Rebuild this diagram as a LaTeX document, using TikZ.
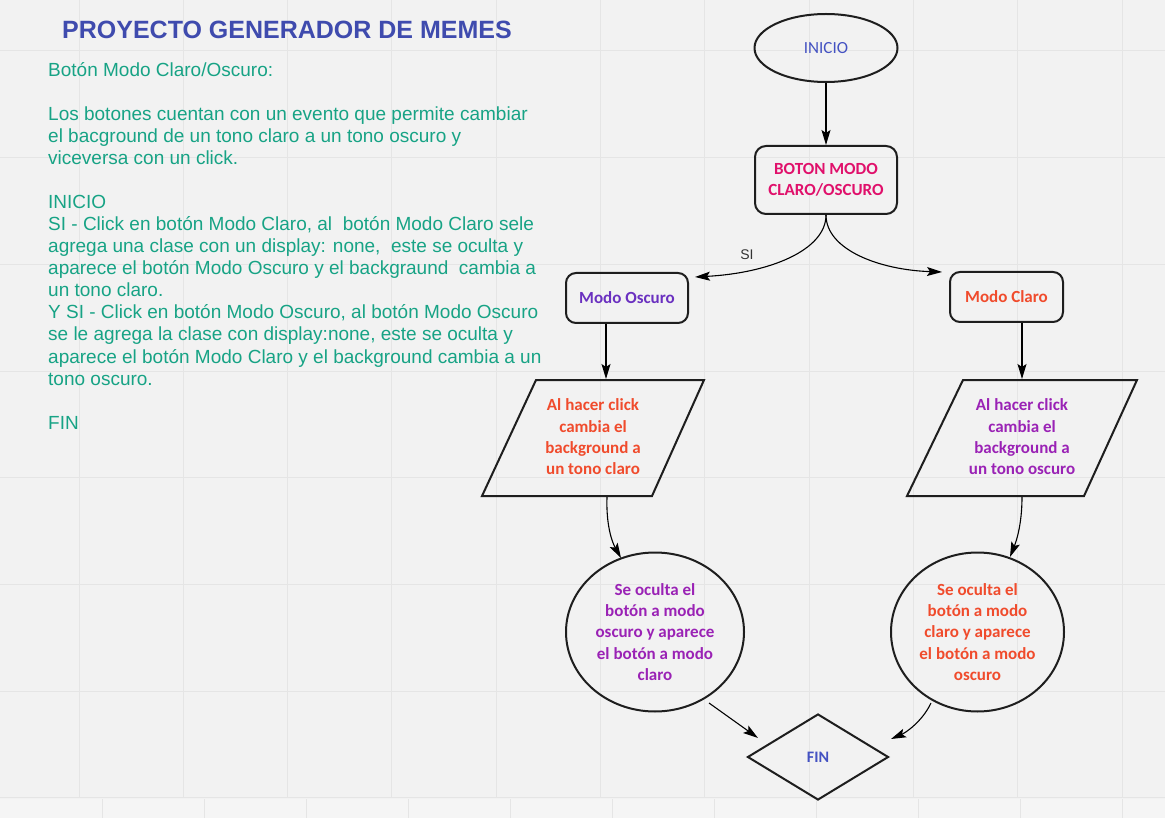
\documentclass[tikz,border=0pt]{standalone}
\usepackage{fontspec}
\setmainfont{Liberation Sans}
\newfontfamily\carlito{Carlito}
\usetikzlibrary{shapes.geometric,arrows.meta,calc}
\definecolor{bgc}{HTML}{F2F2F2}
\definecolor{gridc}{HTML}{E5E5E5}
\definecolor{stripc}{HTML}{F5F5F5}
\definecolor{titlec}{HTML}{3F4BAE}
\definecolor{greenc}{HTML}{17A385}
\definecolor{bluec}{HTML}{4452C2}
\definecolor{crimsonc}{HTML}{E0106B}
\definecolor{violetc}{HTML}{6A30C0}
\definecolor{orangec}{HTML}{F04B2C}
\definecolor{purplec}{HTML}{9A22B5}
\definecolor{edgec}{HTML}{1E1E1E}
\begin{document}
\begin{tikzpicture}[x=1pt,y=-1pt,
  gtxt/.style={anchor=base west, inner sep=0pt, text=greenc, font=\fontsize{19}{22}\selectfont},
  nfont/.style={font=\carlito\bfseries\fontsize{17}{21.3}\selectfont},
  term/.style={ellipse, draw=edgec, line width=2pt, minimum width=143pt, minimum height=68pt, inner sep=0pt},
  rbox/.style={rectangle, rounded corners=11pt, draw=edgec, line width=2pt, inner sep=0pt, align=center, nfont},
  circ/.style={ellipse, draw=edgec, line width=2pt, inner sep=0pt, align=center, nfont},
  pbord/.style={draw=edgec, line width=2pt, line join=miter},
  ptxt/.style={inner sep=0pt, align=center, nfont},
  conn/.style={draw=black, line width=1.1pt, -{Stealth[length=15pt,width=9pt,inset=3pt]}}
]
\useasboundingbox (0,0) rectangle (1165,818);
\fill[bgc] (0,0) rectangle (1165,818);
\foreach \i in {0,...,10} \draw[gridc, line width=1pt] ({79+104.3*\i},0) -- ({79+104.3*\i},798);
\foreach \j in {0,...,7} \draw[gridc, line width=1pt] (0,{51+106.7*\j}) -- (1165,{51+106.7*\j});
\fill[stripc] (0,799) rectangle (1165,818);
\foreach \i in {1,...,11} \draw[gridc, line width=1pt] ({102*\i},799) -- ({102*\i},818);

% title and description
\node[anchor=base west, inner sep=0pt, text=titlec, font=\bfseries\fontsize{25}{30}\selectfont] (title) at (62,39) {PROYECTO GENERADOR DE MEMES};
\node[gtxt] (l0) at (48,77) {Botón Modo Claro/Oscuro:};
\node[gtxt] (l2) at (48,121) {Los botones cuentan con un evento que permite cambiar};
\node[gtxt] (l3) at (48,143) {el bacground de un tono claro a un tono oscuro y};
\node[gtxt] (l4) at (48,165) {viceversa con un click.};
\node[gtxt] (l6) at (48,209) {INICIO};
\node[gtxt] (l7) at (48,231) {SI - Click en botón Modo Claro, al\ \ botón Modo Claro sele};
\node[gtxt] (l8) at (48,253) {agrega una clase con un display: none,\ \ este se oculta y};
\node[gtxt] (l9) at (48,275) {aparece el botón Modo Oscuro y el backgraund\ \ cambia a};
\node[gtxt] (l10) at (48,297) {un tono claro.};
\node[gtxt] (l11) at (48,319) {Y SI - Click en botón Modo Oscuro, al botón Modo Oscuro};
\node[gtxt] (l12) at (48,341) {se le agrega la clase con display:none, este se oculta y};
\node[gtxt] (l13) at (48,363) {aparece el botón Modo Claro y el background cambia a un};
\node[gtxt] (l14) at (48,385) {tono oscuro.};
\node[gtxt] (l16) at (48,429) {FIN};

% flowchart nodes
\node[term, text=bluec, font=\carlito\fontsize{17}{20}\selectfont] (inicio) at (826,48) {INICIO};
\node[rbox, text=crimsonc, minimum width=142pt, minimum height=68pt] (boton) at (826,180) {BOTON MODO\\CLARO/OSCURO};
\node[rbox, text=violetc, rounded corners=10pt, minimum width=122pt, minimum height=50pt] (oscuro) at (627,298) {Modo Oscuro};
\node[rbox, text=orangec, rounded corners=10pt, minimum width=113pt, minimum height=50pt] (claro) at (1006.5,297) {Modo Claro};

\draw[pbord] (536,380) -- (704,380) -- (652,496) -- (482,496) -- cycle;
\node[ptxt, text=orangec] (pL) at (593,437) {Al hacer click\\cambia el\\background a\\un tono claro};
\draw[pbord] (963,380) -- (1137,380) -- (1084,496) -- (907,496) -- cycle;
\node[ptxt, text=purplec] (pR) at (1022,437) {Al hacer click\\cambia el\\background a\\un tono oscuro};

\node[circ, text=purplec, minimum width=178pt, minimum height=159pt] (cL) at (655,632) {Se oculta el\\botón a modo\\oscuro y aparece\\el botón a modo\\claro};
\node[circ, text=orangec, minimum width=173pt, minimum height=159pt] (cR) at (977.5,632) {Se oculta el\\botón a modo\\claro y aparece\\el botón a modo\\oscuro};

\node[diamond, draw=edgec, line width=2pt, minimum width=141pt, minimum height=86pt, inner sep=0pt, text=bluec, font=\carlito\bfseries\fontsize{16}{19}\selectfont] (fin) at (818,757) {FIN};

% connector end points
\coordinate (pLtop) at (606,379);
\coordinate (pRtop) at (1022,379);
\coordinate (pLbot) at (607,497);
\coordinate (pRbot) at (1022,497);
\coordinate (oTip) at (695,277);
\coordinate (cTip) at (942,272);
\coordinate (cLtop) at (621,558);
\coordinate (cRtop) at (1010,557);
\coordinate (cLout) at (709,703);
\coordinate (cRout) at (931,703);
\coordinate (finL) at (758,738);
\coordinate (finR) at (891,739);

% connectors
\draw[conn] (inicio.south) -- (boton.north);
\draw[conn] (boton.south) .. controls (826,250) and (770,273) .. (oTip);
\draw[conn] (boton.south) .. controls (826,250) and (880,270) .. (cTip);
\node[inner sep=0pt, text=black!80, font=\fontsize{14}{16}\selectfont] (si) at (747,255) {SI};
\draw[conn] (oscuro.south -| pLtop) -- (pLtop);
\draw[conn] (claro.south -| pRtop) -- (pRtop);
\draw[conn] (pLbot) .. controls (606,525) and (612,542) .. (cLtop);
\draw[conn] (pRbot) .. controls (1022,525) and (1016,542) .. (cRtop);
\draw[conn] (cLout) -- (finL);
\draw[conn] (cRout) .. controls (922,722) and (905,733) .. (finR);
\end{tikzpicture}
\end{document}
